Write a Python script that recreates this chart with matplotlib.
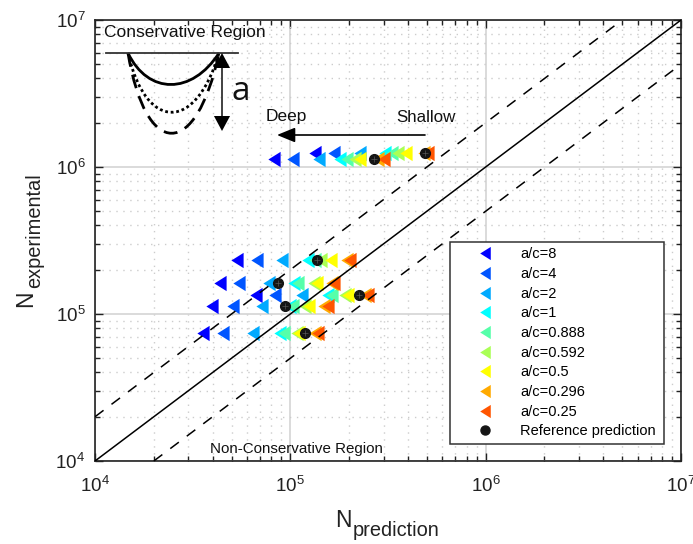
import matplotlib
matplotlib.use("Agg")
import matplotlib.pyplot as plt
from matplotlib.lines import Line2D
from matplotlib.path import Path
from matplotlib.patches import PathPatch

plt.rcParams['font.family'] = ['Liberation Sans', 'DejaVu Sans']
plt.rcParams['mathtext.fontset'] = 'custom'
plt.rcParams['mathtext.rm'] = 'Liberation Sans'
plt.rcParams['mathtext.it'] = 'Liberation Sans'
plt.rcParams['mathtext.default'] = 'regular'

n_exp = [1.24e6, 1.13e6, 2.33e5, 1.63e5, 1.35e5, 1.13e5, 7.43e4]
labels = ['a/c=8', 'a/c=4', 'a/c=2', 'a/c=1', 'a/c=0.888', 'a/c=0.592', 'a/c=0.5', 'a/c=0.296', 'a/c=0.25']
colors = ['#0000ff', '#0055ff', '#00aaff', '#00ffff', '#55ffaa', '#aaff55', '#ffff00', '#ffaa00', '#ff5500']
n_pred = [
    [1.34e5, 8.25e4, 5.33e4, 4.36e4, 6.67e4, 3.97e4, 3.57e4],
    [1.67e5, 1.03e5, 6.75e4, 5.46e4, 8.35e4, 5.09e4, 4.52e4],
    [2.27e5, 1.40e5, 9.06e4, 7.78e4, 1.15e5, 7.16e4, 6.44e4],
    [3.05e5, 1.80e5, 1.23e5, 1.04e5, 1.56e5, 9.96e4, 8.85e4],
    [3.32e5, 1.95e5, 1.34e5, 1.09e5, 1.63e5, 1.03e5, 9.28e4],
    [3.56e5, 2.14e5, 1.43e5, 1.32e5, 1.91e5, 1.19e5, 1.08e5],
    [3.91e5, 2.27e5, 1.62e5, 1.37e5, 1.97e5, 1.25e5, 1.11e5],
    [4.83e5, 2.81e5, 1.95e5, 1.63e5, 2.41e5, 1.49e5, 1.34e5],
    [5.07e5, 3.02e5, 2.02e5, 1.67e5, 2.50e5, 1.56e5, 1.39e5],
]
ref_pred = [4.9e5, 2.68e5, 1.37e5, 8.65e4, 2.25e5, 9.39e4, 1.19e5]

diag = [1e4, 1e7]
upper_x = [1e4, 5e6]
upper_y = [2e4, 1e7]
lower_x = [2e4, 1e7]
lower_y = [1e4, 5e6]

solid_curve = [(128, 53), (148, 95), (192, 95), (219, 53)]
dotted_curve = [(128, 53), (146, 132), (196, 132), (219, 53)]
dashed_curve = [(128, 53), (146, 160), (196, 160), (219, 53)]

W, H = 693, 544
fig = plt.figure(figsize=(W / 100, H / 100), dpi=100)
ax = fig.add_axes([95 / W, 1 - 461 / H, 586 / W, 441 / H])
ax.set_xscale('log')
ax.set_yscale('log')
ax.set_xlim(1e4, 1e7)
ax.set_ylim(1e4, 1e7)

ax.grid(True, which='major', color='#d4d4d4', lw=1.2)
ax.grid(True, which='minor', color='#cccccc', lw=1.0, ls=(0, (1, 4)))
ax.set_axisbelow(True)
ax.tick_params(which='major', direction='in', length=6, width=1, top=True, right=True, labelsize=13.5, color='#222222', labelcolor='#222222')
ax.tick_params(axis='x', which='major', pad=11)
ax.tick_params(axis='y', which='major', pad=7)
ax.tick_params(which='minor', direction='in', length=3.5, width=1, top=True, right=True, color='#222222')
for s in ax.spines.values():
    s.set_color('#222222')
    s.set_linewidth(1.2)

tri = [(-0.8, 0), (0.8, 1), (0.8, -1)]
handles = []
for xs, c, lab in zip(n_pred, colors, labels):
    ax.plot(xs, n_exp, ls='none', marker=tri, ms=11, mfc=c, mec='none', zorder=2)
    handles.append(Line2D([], [], ls='none', marker=tri, ms=9.5, mfc=c, mec='none', label=lab))

ax.plot(diag, diag, color='k', lw=1.1, zorder=3)
ax.plot(upper_x, upper_y, color='k', lw=1.1, ls=(0, (7, 6.5)), zorder=3)
ax.plot(lower_x, lower_y, color='k', lw=1.1, ls=(0, (7, 6.5)), zorder=3)

ax.plot(ref_pred, n_exp, ls='none', marker='o', ms=7, mfc='#151515', mec='#151515', zorder=4)
ax.plot(ref_pred, n_exp, ls='none', marker='+', ms=5, mec='#555555', mew=0.5, zorder=5)
handles.append(Line2D([], [], ls='none', marker='o', ms=6.5, mfc='#151515', mec='#151515', label='Reference prediction'))

ax.set_xlabel('N', fontsize=16.5, color='#222222', ha='left', va='baseline')
ax.xaxis.set_label_coords((335 - 95) / 586, -(527 - 461) / 441, transform=ax.transAxes)
ax.set_ylabel('N', fontsize=16.5, color='#222222', ha='left', va='baseline', rotation=90, rotation_mode='anchor')
ax.yaxis.set_label_coords((32 - 95) / 586, (461 - 307) / 441, transform=ax.transAxes)

leg = ax.legend(handles=handles, loc='lower left',
                bbox_to_anchor=((450 - 95) / 586, (461 - 444) / 441, 214 / 586, 202 / 441),
                mode='expand', ncol=1, fontsize=10.5, frameon=True, fancybox=False, framealpha=1,
                edgecolor='#333333', borderaxespad=0, labelspacing=0.39, borderpad=0.38,
                handletextpad=0.35, handlelength=4.07)
leg.get_frame().set_linewidth(1.1)
leg.set_zorder(6)

ov = fig.add_axes([0, 0, 1, 1], facecolor='none')
ov.set_xlim(0, W)
ov.set_ylim(H, 0)
ov.axis('off')
codes = [Path.MOVETO, Path.CURVE4, Path.CURVE4, Path.CURVE4]
ov.plot([106, 238], [52.5, 52.5], color='#333333', lw=1.3)
ov.add_patch(PathPatch(Path(solid_curve, codes), fc='none', ec='k', lw=2.0))
ov.add_patch(PathPatch(Path(dotted_curve, codes), fc='none', ec='k', lw=2.0, ls=(0, (1, 1))))
ov.add_patch(PathPatch(Path(dashed_curve, codes), fc='none', ec='k', lw=2.0, ls=(0, (5, 3))))
ov.plot([222, 222], [60, 125], color='#333333', lw=1.3)
head = dict(arrowstyle='-|>,head_length=1.08,head_width=0.58', color='k', lw=0, shrinkA=0, shrinkB=0)
ov.annotate('', xy=(222, 53), xytext=(222, 73), arrowprops=head)
ov.annotate('', xy=(222, 131), xytext=(222, 111), arrowprops=head)
ov.annotate('', xy=(277, 135), xytext=(425, 135),
            arrowprops=dict(arrowstyle='-|>,head_length=1.1,head_width=0.45', color='k', lw=1.2, shrinkA=0, shrinkB=0))
ov.text(104, 32, 'Conservative Region', fontsize=12.5, va='center', ha='left', color='#111111')
ov.text(241, 91, 'a', fontsize=24, va='center', ha='center', family=['Open Sans', 'DejaVu Sans'], color='#111111')
ov.text(266, 117, 'Deep', fontsize=12.5, va='center', ha='left', color='#111111')
ov.text(396, 118, 'Shallow', fontsize=12.2, va='center', ha='left', color='#111111')
ov.text(210, 449, 'Non-Conservative Region', fontsize=10.9, va='center', ha='left', color='#111111')
ov.text(353, 536, 'prediction', fontsize=14.4, va='baseline', ha='left', color='#222222')
ov.text(40, 288, 'experimental', fontsize=14.4, va='baseline', ha='left', rotation=90, rotation_mode='anchor', color='#222222')

fig.savefig('out.png', dpi=100)
